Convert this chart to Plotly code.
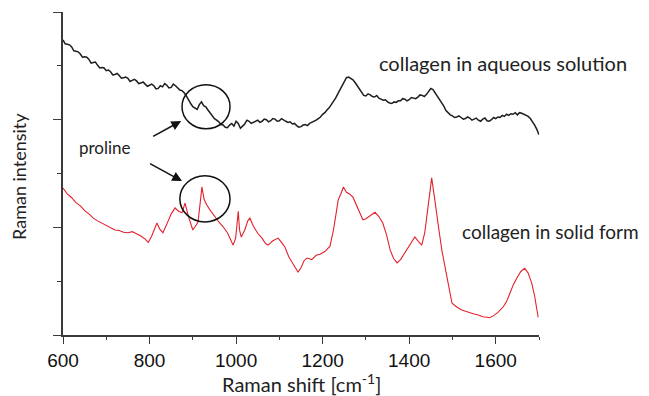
import plotly.graph_objects as go

# Aqueous collagen spectrum (black), every 5 cm-1
aq_x = list(range(600, 1701, 5))
aq_y = [5.48, 5.41, 5.40, 5.39, 5.35, 5.28, 5.27, 5.26, 5.22, 5.16,
        5.17, 5.16, 5.12, 5.05, 5.06, 5.07, 5.01, 4.96, 4.97, 4.96,
        4.91, 4.92, 4.89, 4.83, 4.84, 4.86, 4.82, 4.77, 4.78, 4.79,
        4.77, 4.71, 4.73, 4.75, 4.72, 4.67, 4.68, 4.70, 4.66, 4.62,
        4.64, 4.66, 4.63, 4.57, 4.58, 4.63, 4.61, 4.67, 4.64, 4.59,
        4.60, 4.66, 4.63, 4.58, 4.55, 4.54, 4.50, 4.44, 4.36, 4.30,
        4.24, 4.22, 4.19, 4.28, 4.33, 4.26, 4.24, 4.18, 4.12, 4.06,
        4.02, 3.99, 3.96, 3.91, 3.90, 3.86, 3.85, 3.90, 3.93, 3.88,
        3.97, 3.93, 3.84, 3.88, 3.92, 3.99, 3.97, 3.93, 3.95, 3.98,
        3.99, 3.95, 3.97, 4.01, 4.00, 3.96, 3.98, 4.02, 4.01, 3.97,
        3.98, 4.02, 3.99, 3.97, 3.95, 3.96, 3.92, 3.93, 3.89, 3.86,
        3.87, 3.90, 3.91, 3.89, 3.93, 3.95, 3.96, 3.99, 4.02, 4.05,
        4.10, 4.13, 4.18, 4.22, 4.28, 4.33, 4.40, 4.48, 4.56, 4.65,
        4.72, 4.78, 4.79, 4.77, 4.74, 4.69, 4.63, 4.55, 4.49, 4.45,
        4.44, 4.48, 4.46, 4.43, 4.42, 4.45, 4.40, 4.38, 4.36, 4.37,
        4.33, 4.31, 4.30, 4.33, 4.32, 4.35, 4.35, 4.39, 4.38, 4.35,
        4.37, 4.41, 4.40, 4.39, 4.42, 4.46, 4.45, 4.43, 4.47, 4.53,
        4.58, 4.56, 4.50, 4.44, 4.38, 4.31, 4.25, 4.17, 4.12, 4.09,
        4.07, 4.04, 4.05, 4.07, 4.04, 4.01, 4.02, 4.05, 4.03, 3.99,
        4.01, 4.03, 3.99, 3.97, 4.01, 4.03, 3.98, 3.97, 4.00, 4.04,
        4.02, 4.05, 4.04, 4.08, 4.06, 4.10, 4.08, 4.11, 4.10, 4.13,
        4.09, 4.13, 4.12, 4.10, 4.07, 4.06, 4.02, 3.97, 3.90, 3.82,
        3.72]

# Solid collagen spectrum (red)
sol_x = [600, 610, 620, 630, 640, 650, 660, 670, 680, 690, 700, 710, 720, 730, 740,
         750, 760, 770, 780, 790, 797, 805, 812, 817, 824, 831, 840, 850, 859, 867,
         875, 882, 890, 900, 906, 912, 917, 921, 926, 932, 940, 950, 960, 970, 980,
         987, 993, 999, 1003, 1005, 1008, 1012, 1020, 1027, 1032, 1040, 1050, 1060,
         1068, 1074, 1085, 1097, 1105, 1113, 1122, 1130, 1137, 1143, 1150, 1157, 1164,
         1175, 1185, 1194, 1205, 1217, 1225, 1232, 1236, 1242, 1248, 1255, 1262, 1270,
         1280, 1287, 1293, 1300, 1310, 1321, 1330, 1339, 1348, 1356, 1364, 1372, 1380,
         1388, 1395, 1405, 1413, 1421, 1429, 1436, 1441, 1447, 1452, 1458, 1464, 1470,
         1476, 1483, 1490, 1499, 1510, 1520, 1530, 1540, 1550, 1560, 1570, 1580, 1586,
         1595, 1605, 1617, 1625, 1633, 1641, 1649, 1658, 1667, 1675, 1683, 1690, 1698]
sol_y = [2.73, 2.62, 2.55, 2.46, 2.40, 2.31, 2.25, 2.17, 2.12, 2.08, 2.04, 2.00, 1.95, 1.94, 1.91,
         1.90, 1.92, 1.88, 1.84, 1.78, 1.72, 1.84, 1.98, 2.08, 1.96, 1.90, 2.06, 2.25, 2.36, 2.30,
         2.27, 2.45, 2.20, 1.95, 2.02, 2.10, 2.45, 2.75, 2.52, 2.42, 2.32, 2.20, 2.10, 2.01, 1.90,
         1.78, 1.67, 1.80, 2.20, 2.30, 1.95, 1.82, 1.95, 2.12, 2.17, 2.02, 1.89, 1.80,
         1.70, 1.67, 1.75, 1.80, 1.72, 1.63, 1.45, 1.33, 1.25, 1.17, 1.25, 1.38, 1.43,
         1.40, 1.48, 1.50, 1.55, 1.65, 1.95, 2.30, 2.51, 2.62, 2.75, 2.65, 2.62, 2.56,
         2.38, 2.22, 2.14, 2.16, 2.22, 2.28, 2.20, 2.08, 1.85, 1.58, 1.42, 1.34, 1.40,
         1.50, 1.58, 1.72, 1.82, 1.74, 1.67, 1.90, 2.19, 2.60, 2.92, 2.58, 2.19, 1.88,
         1.55, 1.26, 0.92, 0.59, 0.52, 0.47, 0.44, 0.41, 0.39, 0.37, 0.34, 0.33, 0.32,
         0.36, 0.42, 0.52, 0.62, 0.78, 0.94, 1.06, 1.18, 1.24, 1.15, 0.97, 0.72, 0.33]

x_ticks = [600, 800, 1000, 1200, 1400, 1600]

fig = go.Figure()
fig.add_trace(go.Scatter(x=aq_x, y=aq_y, mode="lines",
                         line=dict(color="#1e1e1e", width=1.5), showlegend=False))
fig.add_trace(go.Scatter(x=sol_x, y=sol_y, mode="lines",
                         line=dict(color="#e4202b", width=1.1), showlegend=False))

txt_font = "Lato, 'Open Sans', sans-serif"

fig.update_layout(
    width=649, height=396,
    margin=dict(l=63, r=110, t=12, b=61),
    paper_bgcolor="white", plot_bgcolor="white",
    xaxis=dict(range=[600, 1700], showgrid=False, zeroline=False,
               showline=True, linecolor="#3a3a3a", linewidth=1.5,
               ticks="outside", ticklen=7, tickwidth=1.3, tickcolor="#3a3a3a",
               tickvals=x_ticks, ticktext=[str(v) for v in x_ticks],
               tickfont=dict(family="Liberation Sans, Arial", size=19, color="#111"),
               minor=dict(ticks="outside", ticklen=3, tickwidth=1.3, tickcolor="#3a3a3a",
                          dtick=100, tick0=600, showgrid=False)),
    yaxis=dict(range=[0, 6], showgrid=False, zeroline=False,
               showline=True, linecolor="#3a3a3a", linewidth=1.5,
               ticks="outside", ticklen=8, tickwidth=1.3, tickcolor="#3a3a3a",
               tick0=0, dtick=2, showticklabels=False,
               minor=dict(ticks="outside", ticklen=4, tickwidth=1.3, tickcolor="#3a3a3a",
                          dtick=1, tick0=0, showgrid=False)),
)

fig.add_annotation(text="Raman shift [cm<sup>-1</sup>]", xref="paper", yref="paper",
                   x=0.5, y=-0.149, xanchor="center", yanchor="middle", showarrow=False,
                   font=dict(family=txt_font, size=20, color="#222"))
fig.add_annotation(text="Raman intensity", xref="paper", yref="paper",
                   x=-0.092, y=0.49, xanchor="center", yanchor="middle", textangle=-90,
                   showarrow=False, font=dict(family=txt_font, size=18, color="#222"))
fig.add_annotation(text="collagen in aqueous solution", xref="x", yref="y",
                   x=1326, y=5.05, xanchor="left", yanchor="middle", showarrow=False,
                   font=dict(family=txt_font, size=20, color="#222"))
fig.add_annotation(text="collagen in solid form", xref="x", yref="y",
                   x=1518, y=1.93, xanchor="left", yanchor="middle", showarrow=False,
                   font=dict(family=txt_font, size=19, color="#222"))
fig.add_annotation(text="proline", xref="x", yref="y",
                   x=698, y=3.49, xanchor="center", yanchor="middle", showarrow=False,
                   font=dict(family=txt_font, size=17, color="#222"))
# arrows
fig.add_annotation(text=" ", xref="x", yref="y", x=873, y=3.975, ax=-31, ay=17,
                   showarrow=True, arrowhead=2, arrowsize=1.3, arrowwidth=1.5, arrowcolor="#111")
fig.add_annotation(text=" ", xref="x", yref="y", x=875, y=2.86, ax=-35, ay=-19,
                   showarrow=True, arrowhead=2, arrowsize=1.3, arrowwidth=1.5, arrowcolor="#111")
# circles
fig.add_shape(type="circle", xref="x", yref="y", x0=875, x1=986, y0=3.83, y1=4.65,
              line=dict(color="#111", width=1.5))
fig.add_shape(type="circle", xref="x", yref="y", x0=870, x1=986, y0=2.10, y1=2.96,
              line=dict(color="#111", width=1.5))

fig.write_html("out.html")
